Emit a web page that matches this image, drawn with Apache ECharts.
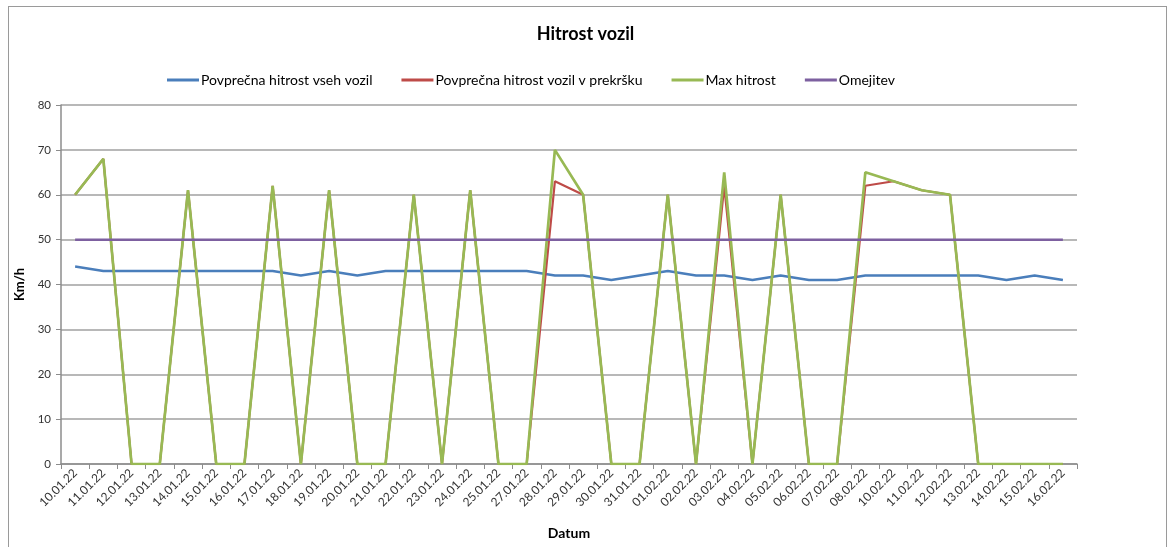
<!DOCTYPE html>
<html>
<head>
<meta charset="utf-8">
<script src="https://cdn.jsdelivr.net/npm/echarts@6/dist/echarts.min.js"></script>
<style>
html,body{margin:0;padding:0;background:#fff;}
#frame{position:absolute;left:8px;top:6px;width:1159px;height:560px;border:1px solid #9a9a9a;box-sizing:border-box;}
#chart{position:absolute;left:0;top:0;width:1171px;height:547px;}
</style>
</head>
<body>
<div id="frame"></div>
<div id="chart"></div>
<script>
const categories = ['10.01.22','11.01.22','12.01.22','13.01.22','14.01.22','15.01.22','16.01.22','17.01.22','18.01.22','19.01.22','20.01.22','21.01.22','22.01.22','23.01.22','24.01.22','25.01.22','27.01.22','28.01.22','29.01.22','30.01.22','31.01.22','01.02.22','02.02.22','03.02.22','04.02.22','05.02.22','06.02.22','07.02.22','08.02.22','10.02.22','11.02.22','12.02.22','13.02.22','14.02.22','15.02.22','16.02.22'];
const avgAll = [44,43,43,43,43,43,43,43,42,43,42,43,43,43,43,43,43,42,42,41,42,43,42,42,41,42,41,41,42,42,42,42,42,41,42,41];
const avgViol = [60,68,0,0,61,0,0,62,0,61,0,0,60,0,61,0,0,63,60,0,0,60,0,62,0,60,0,0,62,63,61,60,0,0,0,0];
const maxSpeed = [60,68,0,0,61,0,0,62,0,61,0,0,60,0,61,0,0,70,60,0,0,60,0,65,0,60,0,0,65,63,61,60,0,0,0,0];
const limit = [50,50,50,50,50,50,50,50,50,50,50,50,50,50,50,50,50,50,50,50,50,50,50,50,50,50,50,50,50,50,50,50,50,50,50,50];
const seriesNames = ['Povprečna hitrost vseh vozil','Povprečna hitrost vozil v prekršku','Max hitrost','Omejitev'];
const yTicks = {min:0, max:80, interval:10};

const chart = echarts.init(document.getElementById('chart'));
const font = 'Lato, "Open Sans", sans-serif';
const mk = (name, data, color, w) => ({
  name, type:'line', data, symbol:'none', smooth:false,
  lineStyle:{color, width:w}, itemStyle:{color}
});
chart.setOption({
  animation:false,
  textStyle:{fontFamily:font},
  title:{text:'Hitrost vozil', left:'center', top:20, textStyle:{fontSize:18, fontWeight:'bold', color:'#000', fontFamily:font}},
  legend:{top:68, left:162, itemGap:29, itemWidth:32, itemHeight:3, icon:'rect',
    textStyle:{fontSize:14, color:'#000', fontFamily:font, padding:[0,0,0,-3]},
    data:seriesNames},
  grid:{left:61, right:94, top:105, bottom:83, containLabel:false},
  xAxis:{type:'category', data:categories, boundaryGap:true,
    name:'Datum', nameLocation:'middle', nameGap:62,
    nameTextStyle:{fontSize:14, fontWeight:'bold', color:'#000', fontFamily:font},
    axisLine:{lineStyle:{color:'#8c8c8c', width:1.5}},
    axisTick:{show:true, alignWithLabel:false, length:5, lineStyle:{color:'#8c8c8c'}},
    axisLabel:{rotate:45, fontSize:12, color:'#333', interval:0, margin:7, fontFamily:font}
  },
  yAxis:{type:'value', min:yTicks.min, max:yTicks.max, interval:yTicks.interval,
    name:'Km/h', nameLocation:'middle', nameGap:32, nameRotate:90,
    nameTextStyle:{fontSize:13, fontWeight:'bold', color:'#000', fontFamily:font},
    axisLine:{show:true, lineStyle:{color:'#8c8c8c', width:1.5}},
    axisTick:{show:true, length:5, inside:false, lineStyle:{color:'#8c8c8c'}},
    axisLabel:{fontSize:11.5, color:'#333', margin:10, fontFamily:font},
    splitLine:{lineStyle:{color:'#a0a0a0', width:1.5}}
  },
  series:[
    mk(seriesNames[0], avgAll, '#4a7ebb', 2.5),
    mk(seriesNames[1], avgViol, '#be4b48', 2.2),
    mk(seriesNames[2], maxSpeed, '#98b954', 2.7),
    mk(seriesNames[3], limit, '#7d60a0', 2.5)
  ]
});
</script>
</body>
</html>
